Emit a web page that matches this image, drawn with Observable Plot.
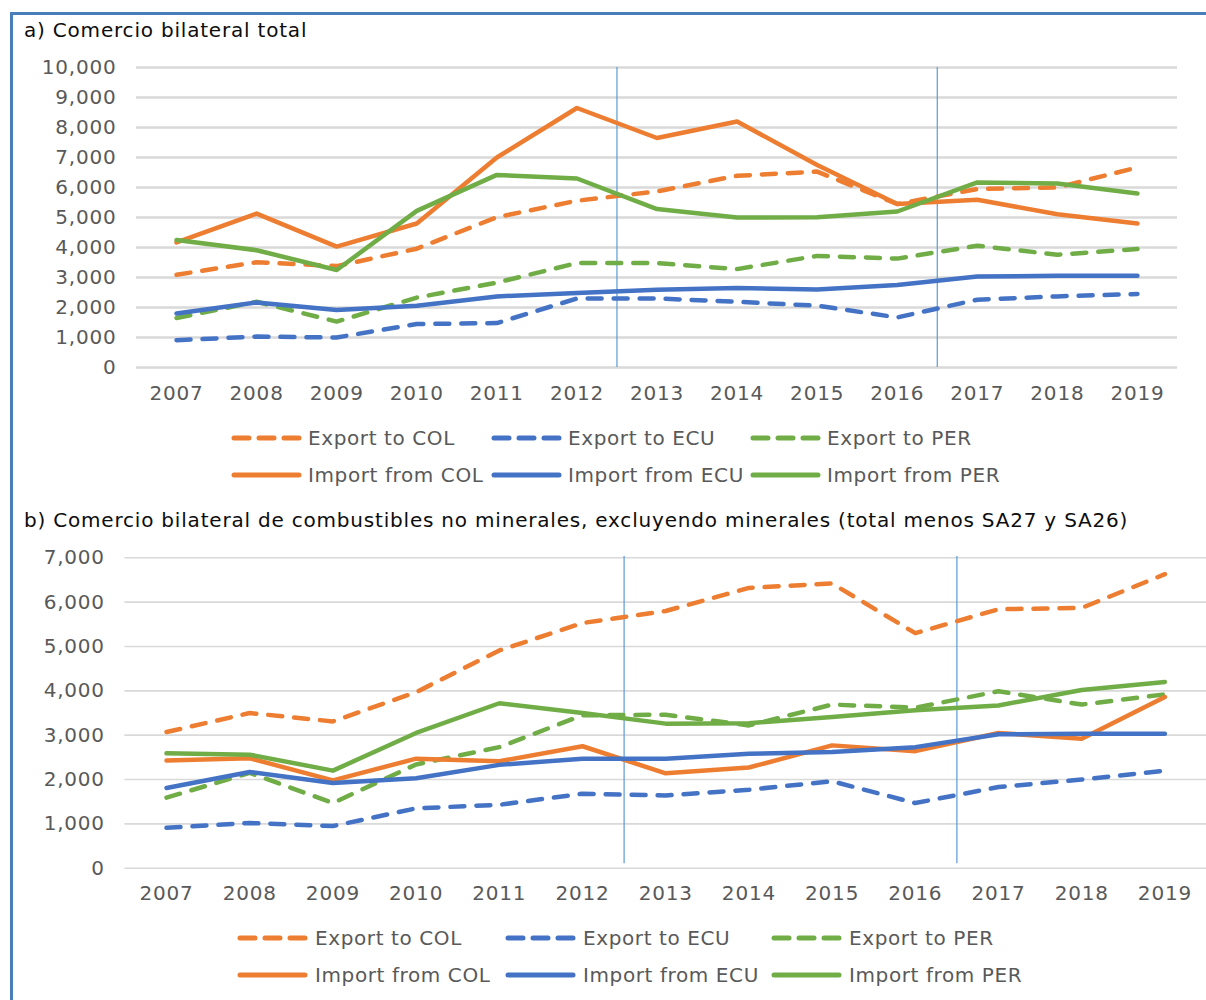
<!DOCTYPE html>
<html>
<head>
<meta charset="utf-8">
<script src="https://cdn.jsdelivr.net/npm/d3@7"></script>
<script src="https://cdn.jsdelivr.net/npm/@observablehq/plot@0.6"></script>
<style>
  html, body { margin: 0; padding: 0; background: #fff; }
  #root { position: relative; width: 1206px; height: 1000px; overflow: hidden; background: #fff;
          font-family: 'DejaVu Sans', Verdana, sans-serif; }
  .frame { position: absolute; left: 10px; top: 12px; width: 1400px; height: 1200px;
           border-top: 3px solid #4A7EBB; border-left: 3px solid #4A7EBB; box-sizing: border-box; }
  .title { position: absolute; left: 24px; font-size: 20px; letter-spacing: 0.8px; line-height: 22px; color: #0d0d0d; white-space: nowrap; }
  .chart { position: absolute; left: 0; }
  .leg { position: absolute; display: flex; align-items: center; font-size: 20px; letter-spacing: 0.6px; line-height: 22px; color: #595959; white-space: nowrap; }
  .leg svg { display: block; }
</style>
</head>
<body>
<div id="root"><div class="frame"></div></div>
<script>
// ---------------- data ----------------
const years = [2007, 2008, 2009, 2010, 2011, 2012, 2013, 2014, 2015, 2016, 2017, 2018, 2019];
const countries = ["COL", "ECU", "PER"];
const countryColors = ["#ED7D31", "#4472C4", "#70AD47"];
const periodBreaks = [2012.5, 2016.5];

// a) Comercio bilateral total
const totExportCOL = [3090, 3510, 3380, 3960, 5010, 5560, 5870, 6390, 6530, 5450, 5950, 6000, 6670];
const totExportECU = [910, 1030, 1000, 1450, 1480, 2300, 2300, 2190, 2060, 1670, 2260, 2370, 2450];
const totExportPER = [1650, 2190, 1530, 2330, 2830, 3480, 3480, 3280, 3720, 3630, 4060, 3760, 3950];
const totImportCOL = [4170, 5130, 4030, 4800, 7000, 8650, 7650, 8200, 6750, 5450, 5590, 5110, 4800];
const totImportECU = [1800, 2170, 1920, 2060, 2370, 2480, 2590, 2650, 2600, 2750, 3030, 3055, 3055];
const totImportPER = [4250, 3910, 3250, 5220, 6420, 6300, 5280, 5000, 5010, 5200, 6170, 6130, 5800];

// b) Comercio bilateral de combustibles no minerales
const ncExportCOL = [3070, 3500, 3310, 3970, 4910, 5530, 5800, 6320, 6420, 5300, 5840, 5870, 6630];
const ncExportECU = [910, 1020, 950, 1350, 1430, 1680, 1640, 1770, 1960, 1470, 1830, 2000, 2200];
const ncExportPER = [1590, 2150, 1470, 2340, 2730, 3450, 3460, 3220, 3690, 3620, 3990, 3690, 3920];
const ncImportCOL = [2430, 2480, 1980, 2470, 2410, 2750, 2140, 2270, 2770, 2640, 3050, 2920, 3860];
const ncImportECU = [1810, 2170, 1920, 2030, 2330, 2470, 2470, 2580, 2620, 2730, 3020, 3030, 3030];
const ncImportPER = [2590, 2560, 2200, 3050, 3720, 3500, 3260, 3270, 3410, 3560, 3670, 4020, 4200];

const seriesLabels = ["Export to COL", "Export to ECU", "Export to PER", "Import from COL", "Import from ECU", "Import from PER"];

function buildTable(arrs) {
  const rows = [];
  arrs.forEach((arr, i) => {
    const label = seriesLabels[i];
    const flow = label.startsWith("Export") ? "Export" : "Import";
    const country = countries[i % 3];
    arr.forEach((v, j) => rows.push({series: label, flow, country, year: years[j], value: v}));
  });
  return rows;
}

const totData = buildTable([totExportCOL, totExportECU, totExportPER, totImportCOL, totImportECU, totImportPER]);
const ncData = buildTable([ncExportCOL, ncExportECU, ncExportPER, ncImportCOL, ncImportECU, ncImportPER]);

const DASH = "14,12";

function makeChart({data, yMax, height, marginTop, marginBottom, marginLeft, marginRight, gridWidth, ruleY1, ruleY2}) {
  const yTicks = d3.range(0, yMax + 1, 1000);
  return Plot.plot({
    width: 1206, height, marginTop, marginBottom, marginLeft, marginRight,
    x: {domain: [2006.5, 2019.5]},
    y: {domain: [0, yMax]},
    color: {domain: countries, range: countryColors},
    style: {fontFamily: "'DejaVu Sans', Verdana, sans-serif", fontSize: "20px", letterSpacing: "0.8px", color: "#595959", background: "transparent", overflow: "visible"},
    marks: [
      Plot.gridY(yTicks, {stroke: "#d9d9d9", strokeOpacity: 1, strokeWidth: gridWidth}),
      Plot.ruleX(periodBreaks, {y1: ruleY1, y2: ruleY2, stroke: "#5B9BD5", strokeWidth: 1.2}),
      Plot.line(data.filter(d => d.flow === "Export"), {
        x: "year", y: "value", z: "series", stroke: "country",
        strokeWidth: 4.5, strokeDasharray: DASH, strokeLinecap: "round", strokeLinejoin: "round"
      }),
      Plot.line(data.filter(d => d.flow === "Import"), {
        x: "year", y: "value", z: "series", stroke: "country",
        strokeWidth: 4.5, strokeLinecap: "round", strokeLinejoin: "round"
      }),
      Plot.axisX(years, {tickSize: 0, tickPadding: 18, tickFormat: d => String(d), label: null}),
      Plot.axisY(yTicks, {tickSize: 0, tickPadding: 20, tickFormat: d3.format(","), label: null})
    ]
  });
}

const root = document.getElementById("root");

function addTitle(text, top) {
  const t = document.createElement("div");
  t.className = "title";
  t.style.top = top + "px";
  t.textContent = text;
  root.appendChild(t);
}

function addChart(svg, top) {
  const wrap = document.createElement("div");
  wrap.className = "chart";
  wrap.style.top = top + "px";
  wrap.appendChild(svg);
  root.appendChild(wrap);
}

function addLegend(rowsY, swatchX, textGap) {
  seriesLabels.forEach((label, i) => {
    const col = i % 3, row = Math.floor(i / 3);
    const dashed = label.startsWith("Export");
    const color = countryColors[col];
    const item = document.createElement("div");
    item.className = "leg";
    item.style.left = swatchX[col] + "px";
    item.style.top = (rowsY[row] - 11) + "px";
    const ns = "http://www.w3.org/2000/svg";
    const s = document.createElementNS(ns, "svg");
    s.setAttribute("width", textGap);
    s.setAttribute("height", 12);
    const ln = document.createElementNS(ns, "line");
    ln.setAttribute("x1", 3); ln.setAttribute("x2", 68);
    ln.setAttribute("y1", 6); ln.setAttribute("y2", 6);
    ln.setAttribute("stroke", color);
    ln.setAttribute("stroke-width", 5);
    ln.setAttribute("stroke-linecap", "round");
    if (dashed) ln.setAttribute("stroke-dasharray", "15,10");
    s.appendChild(ln);
    item.appendChild(s);
    const tx = document.createElement("span");
    tx.textContent = label;
    item.appendChild(tx);
    root.appendChild(item);
  });
}

// ---- chart a ----
addTitle("a) Comercio bilateral total", 19);
addChart(makeChart({
  data: totData, yMax: 10000, height: 375, marginTop: 17, marginBottom: 58,
  marginLeft: 136, marginRight: 29, gridWidth: 2.5, ruleY1: 0, ruleY2: 10000
}), 50);
addLegend([438, 475], [231, 491, 750], 77);

// ---- chart b ----
addTitle("b) Comercio bilateral de combustibles no minerales, excluyendo minerales (total menos SA27 y SA26)", 509);
addChart(makeChart({
  data: ncData, yMax: 7000, height: 365, marginTop: 12.3, marginBottom: 42.3,
  marginLeft: 124.4, marginRight: 0, gridWidth: 1.6, ruleY1: 100, ruleY2: 7030
}), 545);
addLegend([938, 975], [237, 505, 771], 78);
</script>
</body>
</html>
